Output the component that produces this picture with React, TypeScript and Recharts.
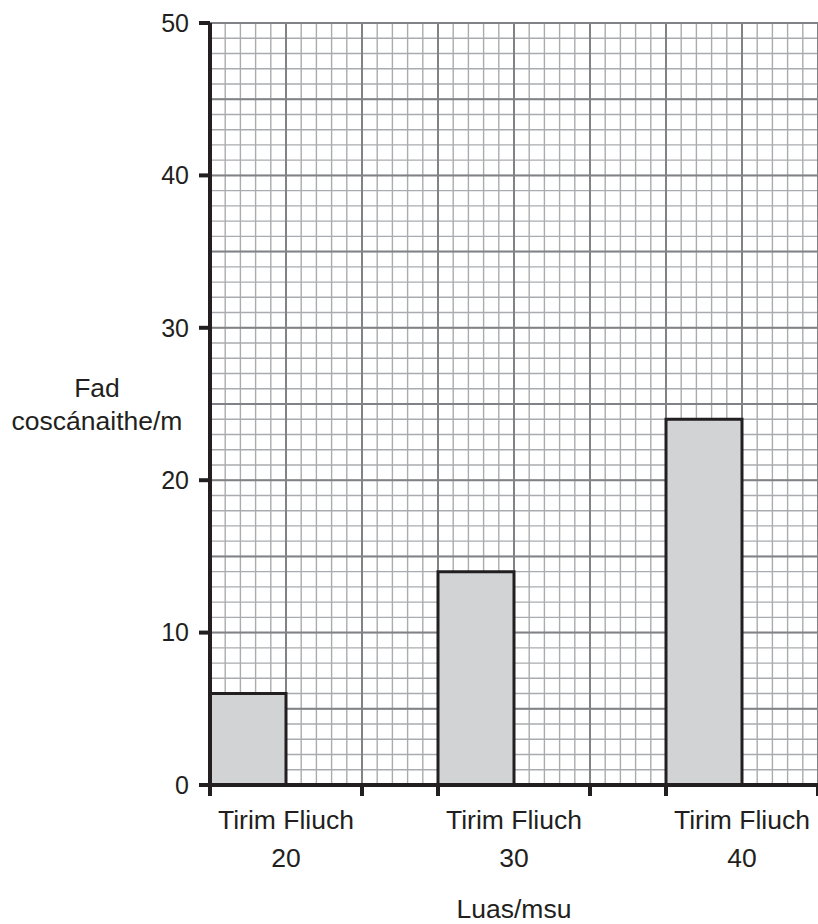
import React from "react";
import {
  BarChart,
  Bar,
  XAxis,
  YAxis,
  CartesianGrid,
  Label,
} from "recharts";

// speeds (msu) and the two surface conditions
const groups = ["20", "30", "40"];
const conditions = ["Tirim", "Fliuch"];
// stopping distance (m); Fliuch bars are not drawn
const tirimDistance = [6, 14, 24];
const fliuchDistance: (number | null)[] = [null, null, null];

const yTicks = [0, 10, 20, 30, 40, 50];
const yMax = 50;

// each bar slot is 5 small squares wide; a gap slot sits between groups
const SQUARES_PER_SLOT = 5;

type Slot = { key: string; u: number; tirim: number | null; fliuch: number | null };

const slots: Slot[] = [];
groups.forEach((g, i) => {
  slots.push({ key: `${g}-T`, u: 0, tirim: tirimDistance[i], fliuch: null });
  slots.push({ key: `${g}-F`, u: 0, tirim: null, fliuch: fliuchDistance[i] });
  if (i < groups.length - 1) slots.push({ key: `${g}-gap`, u: 0, tirim: null, fliuch: null });
});
// position of each slot's left edge, in grid squares
slots.forEach((s, i) => (s.u = i * SQUARES_PER_SLOT));

const xUnits = slots.length * SQUARES_PER_SLOT; // 40 squares across
const groupStart = (i: number) => i * 3 * SQUARES_PER_SLOT;
const boundaryTicks = groups.flatMap((_, i) => [groupStart(i), groupStart(i) + 2 * SQUARES_PER_SLOT]);
const centerTicks = groups.map((_, i) => groupStart(i) + SQUARES_PER_SLOT);
const labelTicks = [...boundaryTicks, ...centerTicks].sort((a, b) => a - b);

// graph-paper grid lines: every square, and every fifth square
const range = (n: number, step: number) =>
  Array.from({ length: Math.floor(n / step) + 1 }, (_, i) => i * step);
const minorX = range(xUnits, 1);
const majorX = range(xUnits, 5);
const minorY = range(yMax, 1);
const majorY = range(yMax, 5);

const INK = "#231f20";
const FONT = "'Liberation Sans', Arial, sans-serif";
const TEXT_SIZE = 26.5;

function XTick(props: any) {
  const { x, y, payload } = props;
  const v = payload.value as number;
  if (boundaryTicks.includes(v)) {
    return <line x1={x} y1={y} x2={x} y2={y + 11} stroke={INK} strokeWidth={4} />;
  }
  const idx = centerTicks.indexOf(v);
  if (idx < 0) return null;
  return (
    <g>
      <text x={x} y={y + 44} textAnchor="middle" fontSize={TEXT_SIZE} fill={INK} fontFamily={FONT}>
        {conditions.join(" ")}
      </text>
      <text x={x} y={y + 82} textAnchor="middle" fontSize={TEXT_SIZE} fill={INK} fontFamily={FONT}>
        {groups[idx]}
      </text>
    </g>
  );
}

export default function App() {
  return (
    <div style={{ position: "absolute", left: 0, top: 0, width: 818, height: 924, background: "#fff" }}>
      <BarChart
        width={818}
        height={924}
        data={slots}
        margin={{ top: 23, right: 0, bottom: 0, left: 0 }}
        barCategoryGap={0}
        barGap={0}
      >
        <XAxis xAxisId="cat" dataKey="key" type="category" hide height={0} />
        <XAxis xAxisId="minor" dataKey="u" type="number" domain={[0, xUnits]} allowDataOverflow ticks={minorX} interval={0} hide height={0} />
        <XAxis xAxisId="major" dataKey="u" type="number" domain={[0, xUnits]} allowDataOverflow ticks={majorX} interval={0} hide height={0} />
        <YAxis yAxisId="minor" type="number" domain={[0, yMax]} allowDataOverflow ticks={minorY} interval={0} hide width={0} />
        <YAxis yAxisId="major" type="number" domain={[0, yMax]} allowDataOverflow ticks={majorY} interval={0} hide width={0} />

        <CartesianGrid xAxisId="minor" yAxisId="minor" stroke="#a9abae" strokeWidth={1.4} />
        <CartesianGrid xAxisId="major" yAxisId="major" stroke="#808285" strokeWidth={2} />

        <Bar
          xAxisId="cat"
          yAxisId="val"
          dataKey="tirim"
          stackId="s"
          fill="#d1d3d4"
          stroke={INK}
          strokeWidth={3}
          isAnimationActive={false}
        />
        <Bar
          xAxisId="cat"
          yAxisId="val"
          dataKey="fliuch"
          stackId="s"
          fill="#d1d3d4"
          stroke={INK}
          strokeWidth={3}
          isAnimationActive={false}
        />

        <YAxis
          yAxisId="val"
          type="number"
          domain={[0, yMax]}
          allowDataOverflow
          ticks={yTicks}
          interval={0}
          width={210}
          tickSize={11}
          tickMargin={10}
          axisLine={{ stroke: INK, strokeWidth: 4 }}
          tickLine={{ stroke: INK, strokeWidth: 4 }}
          tick={{ fontSize: 25, fill: INK, fontFamily: FONT }}
        >
          <Label
            content={(p: any) => {
              const vb = p.viewBox || {};
              const cx = (vb.x ?? 0) + 97;
              const cy = (vb.y ?? 0) + (vb.height ?? 0) / 2;
              return (
                <g>
                  <text x={cx} y={cy - 7} textAnchor="middle" fontSize={TEXT_SIZE} fill={INK} fontFamily={FONT}>
                    Fad
                  </text>
                  <text x={cx} y={cy + 26} textAnchor="middle" fontSize={TEXT_SIZE} fill={INK} fontFamily={FONT}>
                    coscánaithe/m
                  </text>
                </g>
              );
            }}
          />
        </YAxis>
        <XAxis
          xAxisId="lab"
          dataKey="u"
          type="number"
          domain={[0, xUnits]}
          allowDataOverflow
          ticks={labelTicks}
          interval={0}
          height={139}
          tickSize={0}
          tickMargin={0}
          tickLine={false}
          axisLine={{ stroke: INK, strokeWidth: 4 }}
          tick={<XTick />}
        >
          <Label
            content={(p: any) => {
              const vb = p.viewBox || {};
              const cx = (vb.x ?? 0) + (vb.width ?? 0) / 2;
              return (
                <text x={cx} y={(vb.y ?? 0) + 133} textAnchor="middle" fontSize={TEXT_SIZE} fill={INK} fontFamily={FONT}>
                  Luas/msu
                </text>
              );
            }}
          />
        </XAxis>
      </BarChart>
    </div>
  );
}
